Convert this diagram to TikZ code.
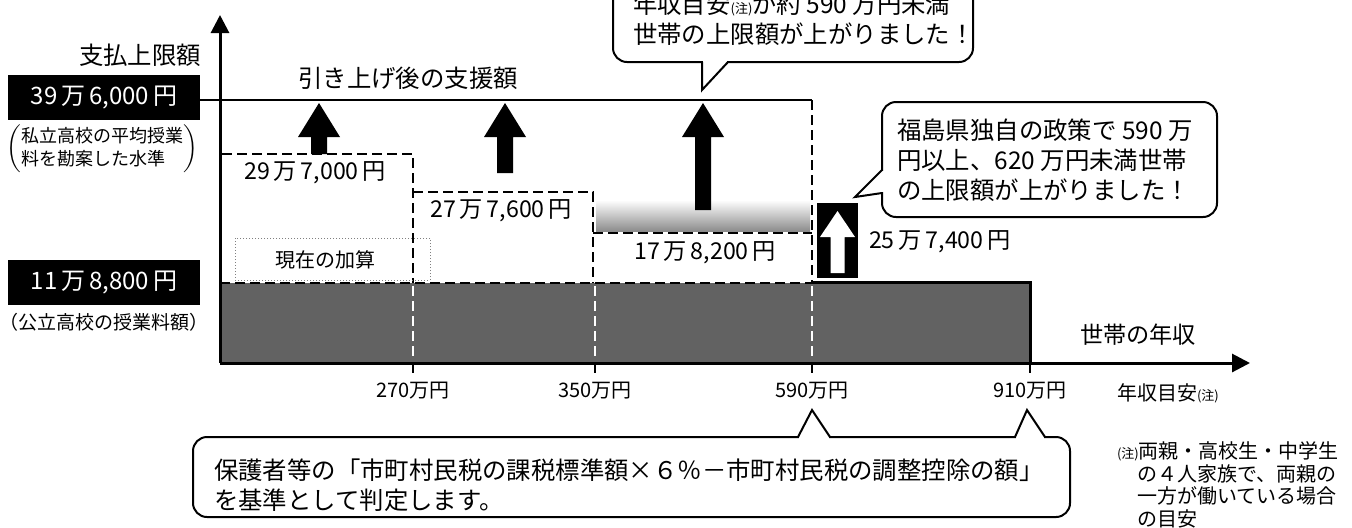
\documentclass[tikz,border=0pt]{standalone}
\usepackage{fontspec}
\setmainfont{Noto Sans CJK JP}
\usetikzlibrary{arrows.meta,positioning}
\definecolor{scangray}{RGB}{98,98,98}
\newcommand{\notemark}{{\fontsize{6.5}{7}\selectfont(注)}}
\tikzset{
  axis/.style={line width=1.5pt,-{Triangle[length=9pt,width=9pt]}},
  dashbox/.style={line width=1.4pt,dash pattern=on 5pt off 2.5pt},
  balloon/.style={draw,line width=1pt,fill=white,rounded corners=7pt},
  tail/.style={line width=1pt},
  blk/.style={fill=black,text=white,inner sep=0pt,minimum width=96pt,minimum height=22.5pt,font=\fontsize{12}{14}\selectfont},
  bigtxt/.style={font=\fontsize{12.2}{15}\selectfont},
  midtxt/.style={font=\fontsize{11.6}{13}\selectfont},
  smalltxt/.style={font=\fontsize{10}{11}\selectfont}
}

\begin{document}
\begin{tikzpicture}[x=0.5pt,y=-0.5pt]
  % Page frame (pixel grid, y grows downward)
  \useasboundingbox (0,0) rectangle (1352,527);
  % Axis corners
  \coordinate (O) at (220,363);
  \coordinate (ytip) at (220,15);
  \coordinate (xtip) at (1250,363);
  % Public school tuition band
  \fill[scangray] (220,283) rectangle (1030,363);
  \shade[top color=white,bottom color=black!45] (596,200) rectangle (810,231);
  \draw[line width=1.5pt] (812,282) -- (1030,282) -- (1030,363);
  \draw[dashbox] (220,283) -- (812,283);
  \foreach \xv in {413,595,812}
    \draw[dashbox,white] (\xv,286) -- (\xv,360);
  % Current supplement steps
  \draw[dashbox] (222,154) -- (413,154) -- (413,283);
  \draw[dashbox] (413,192) -- (593,192) -- (593,283);
  \draw[dashbox] (593,233) -- (812,233);
  \draw[line width=1.2pt] (200,100) -- (812,100);
  \draw[dashbox] (812,100) -- (812,283);
  \draw[gray,densely dotted,line width=0.5pt] (235,238) rectangle (430,280);
  % Raise arrows
  \foreach \ax/\ay in {319/154,505/173,703/210}
    \fill (\ax-21,137) -- (\ax,103) -- (\ax+21,137) -- (\ax+8,137)
      -- (\ax+8,\ay) -- (\ax-8,\ay) -- (\ax-8,137) -- cycle;
  \fill (817,203) rectangle (858,278);
  \fill[white] (820,237) -- (837.5,211) -- (855,237) -- (844.5,237)
    -- (844.5,273) -- (830.5,273) -- (830.5,237) -- cycle;
  % Axes
  \draw[axis] (O) -- (ytip);
  \draw[axis] (O) -- (xtip);
  \foreach \xv/\lab in {413/270,595/350,812/590,1030/910}{
    \draw[line width=1.2pt] (\xv,363) -- (\xv,373);
    \node[smalltxt] (t\lab) at (\xv,391) {\lab 万円};
  }
  % Left labels
  \node[bigtxt] (limit) at (140,55) {支払上限額};
  \node[blk] (upper) at (104,97.5) {39\,万\,6,000\,円};
  \node[font=\fontsize{9}{11.5}\selectfont] (privnote) at (102,149)
    {$\left(\begin{tabular}{@{}l@{}}私立高校の平均授業\\料を勘案した水準\end{tabular}\right)$};
  \node[blk] (lower) at (104,282.5) {11\,万\,8,800\,円};
  \node[font=\fontsize{9.5}{11}\selectfont] (pubnote) [below=0.5pt of lower] {（公立高校の授業料額）};
  % Step labels
  \node[bigtxt] (after) at (408,78) {引き上げ後の支援額};
  \node[midtxt] (s1) at (315,173) {29\,万\,7,000\,円};
  \node[midtxt] (s2) at (501,211) {27\,万\,7,600\,円};
  \node[midtxt] (s3) at (705,253) {17\,万\,8,200\,円};
  \node[smalltxt] (now) at (325,260) {現在の加算};
  \node[midtxt,anchor=west] (s4) at (862,242) {25\,万\,7,400\,円};
  \node[midtxt] (income) at (1138,335) {世帯の年収};
  \node[smalltxt,anchor=west] (guide) at (1110,393) {年収目安\notemark};
  % Callouts
  \coordinate (tip590) at (812,410);
  \coordinate (tip910) at (1027,410);
  \draw[balloon] (613,-40) rectangle (973,62);
  \fill[white] (703,58) rectangle (727,65);
  \draw[tail] (702,62) -- (702,90) -- (728,62);
  \node[bigtxt,align=left,anchor=west] (topnote) at (626,19)
    {年収目安\notemark が約 590 万円未満\\世帯の上限額が上がりました！};
  \draw[balloon] (882,102) rectangle (1217,217);
  \fill[white] (878,171) rectangle (886,192);
  \draw[tail] (882,170) -- (855,197) -- (882,193);
  \node[bigtxt,align=left,anchor=west] (fukushima) at (890,160)
    {福島県独自の政策で 590 万\\円以上、620 万円未満世帯\\の上限額が上がりました！};
  \draw[balloon] (193,437) rectangle (1070,517);
  \fill[white] (799,433) rectangle (829,441);
  \fill[white] (1016,433) rectangle (1044,441);
  \draw[tail] (798,437) -- (tip590) -- (830,437);
  \draw[tail] (1015,437) -- (tip910) -- (1045,437);
  \node[bigtxt,align=left,anchor=west] (basis) at (207,485)
    {保護者等の「市町村民税の課税標準額×６％－市町村民税の調整控除の額」\\を基準として判定します。};
  % Footnote
  \node[smalltxt,align=left,anchor=north west,font=\fontsize{10}{11.2}\selectfont] (footnote) at (1110,435)
    {\notemark 両親・高校生・中学生\\\hspace*{1em}の４人家族で、両親の\\\hspace*{1em}一方が働いている場合\\\hspace*{1em}の目安};
\end{tikzpicture}
\end{document}
